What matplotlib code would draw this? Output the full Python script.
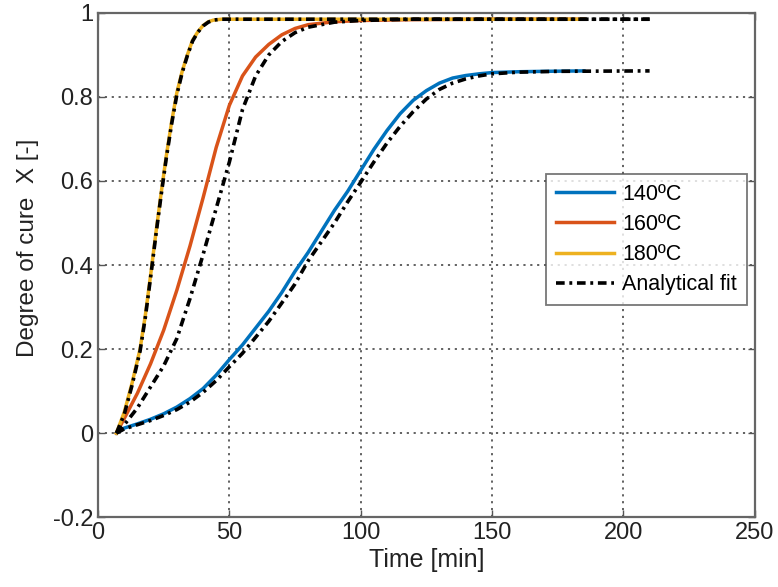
import matplotlib.pyplot as plt
from matplotlib.ticker import FuncFormatter

# --- dati ---
t_140 = [7, 10, 15, 20, 25, 30, 35, 40, 45, 50, 55, 60, 65, 70, 75, 80, 85, 90, 95, 100,
         105, 110, 115, 120, 125, 130, 135, 140, 145, 150, 160, 170, 185]
x_140 = [0, 0.012, 0.022, 0.033, 0.046, 0.062, 0.082, 0.106, 0.138, 0.175, 0.21, 0.25, 0.29,
         0.335, 0.385, 0.43, 0.48, 0.53, 0.575, 0.625, 0.675, 0.72, 0.76, 0.792, 0.815, 0.833,
         0.845, 0.851, 0.855, 0.858, 0.86, 0.861, 0.862]

t_160 = [7, 10, 15, 20, 25, 30, 35, 40, 45, 50, 55, 60, 65, 70, 75, 80, 90, 100, 120, 150, 185]
x_160 = [0, 0.035, 0.095, 0.165, 0.245, 0.34, 0.445, 0.56, 0.68, 0.78, 0.85, 0.895, 0.925, 0.948,
         0.963, 0.972, 0.979, 0.982, 0.984, 0.985, 0.985]

t_180 = [7, 10, 13, 16, 18, 20, 22, 24, 26, 28, 30, 32, 34, 36, 38, 40, 42, 44, 47, 60, 185]
x_180 = [0, 0.05, 0.12, 0.2, 0.28, 0.375, 0.475, 0.57, 0.66, 0.74, 0.81, 0.86, 0.9, 0.935,
         0.955, 0.97, 0.979, 0.983, 0.985, 0.985, 0.985]

# fit analitici
tf_140 = [7, 10, 15, 20, 25, 30, 35, 40, 45, 50, 55, 60, 65, 70, 75, 80, 85, 90, 95, 100,
          105, 110, 115, 120, 125, 130, 135, 140, 145, 150, 160, 175, 210]
xf_140 = [0, 0.01, 0.02, 0.03, 0.042, 0.056, 0.074, 0.097, 0.125, 0.158, 0.19, 0.228, 0.266,
          0.31, 0.355, 0.41, 0.455, 0.5, 0.55, 0.597, 0.645, 0.69, 0.73, 0.765, 0.795, 0.818,
          0.833, 0.843, 0.85, 0.855, 0.859, 0.861, 0.862]

tf_160 = [7, 10, 15, 20, 25, 30, 35, 40, 45, 50, 55, 60, 65, 70, 75, 80, 90, 100, 120, 150, 210]
xf_160 = [0, 0.02, 0.06, 0.11, 0.16, 0.225, 0.32, 0.425, 0.535, 0.645, 0.77, 0.85, 0.9, 0.932,
          0.953, 0.966, 0.978, 0.982, 0.985, 0.985, 0.985]

tf_180 = [7, 10, 13, 16, 18, 20, 22, 24, 26, 28, 30, 32, 34, 36, 38, 40, 42, 44, 47, 60, 210]
xf_180 = [0, 0.045, 0.115, 0.195, 0.275, 0.37, 0.47, 0.565, 0.655, 0.735, 0.805, 0.857, 0.898,
          0.933, 0.954, 0.969, 0.978, 0.983, 0.985, 0.985, 0.985]

x_ticks = [0, 50, 100, 150, 200, 250]
y_ticks = [-0.2, 0, 0.2, 0.4, 0.6, 0.8, 1]

plt.rcParams['font.family'] = ['Liberation Sans', 'DejaVu Sans']

fig = plt.figure(figsize=(7.78, 5.87), dpi=100)
ax = fig.add_axes([0.126, 0.119, 0.844, 0.859])

dashdot = (0, (2.4, 1.3, 0.8, 1.3))

ax.plot(t_140, x_140, color='#0072BD', lw=2.5, label='140ºC')
ax.plot(t_160, x_160, color='#D95319', lw=2.5, label='160ºC')
ax.plot(t_180, x_180, color='#EDB120', lw=2.5, label='180ºC')
ax.plot(tf_140, xf_140, color='black', lw=2.6, linestyle=dashdot, label='Analytical fit')
ax.plot(tf_160, xf_160, color='black', lw=2.6, linestyle=dashdot)
ax.plot(tf_180, xf_180, color='black', lw=2.6, linestyle=dashdot)

ax.set_xlim(0, 250)
ax.set_ylim(-0.2, 1)
ax.set_xticks(x_ticks)
ax.set_yticks(y_ticks)
ax.yaxis.set_major_formatter(FuncFormatter(lambda v, p: f'{v:g}'))

ax.grid(True, color='#555555', linestyle=(0, (1.2, 2.6)), lw=1.3)
ax.tick_params(direction='in', top=True, right=True, labelsize=17,
               colors='#555555', labelcolor='#222222', length=5, width=1)
for s in ax.spines.values():
    s.set_color('#666666')
    s.set_linewidth(1.6)

ax.set_xlabel('Time [min]', fontsize=18, color='#222222', labelpad=3)
ax.set_ylabel('Degree of cure  X [-]', fontsize=17.5, color='#222222')
ax.yaxis.set_label_coords(-0.09, 0.534)

leg = ax.legend(loc='upper right', bbox_to_anchor=(0.988, 0.68), fontsize=15.5,
                handlelength=2.7, fancybox=False, edgecolor='#555555',
                borderaxespad=0, labelspacing=0.42, handletextpad=0.4,
                borderpad=0.45)
leg.get_frame().set_linewidth(1.3)

fig.savefig('out.png', dpi=100)
